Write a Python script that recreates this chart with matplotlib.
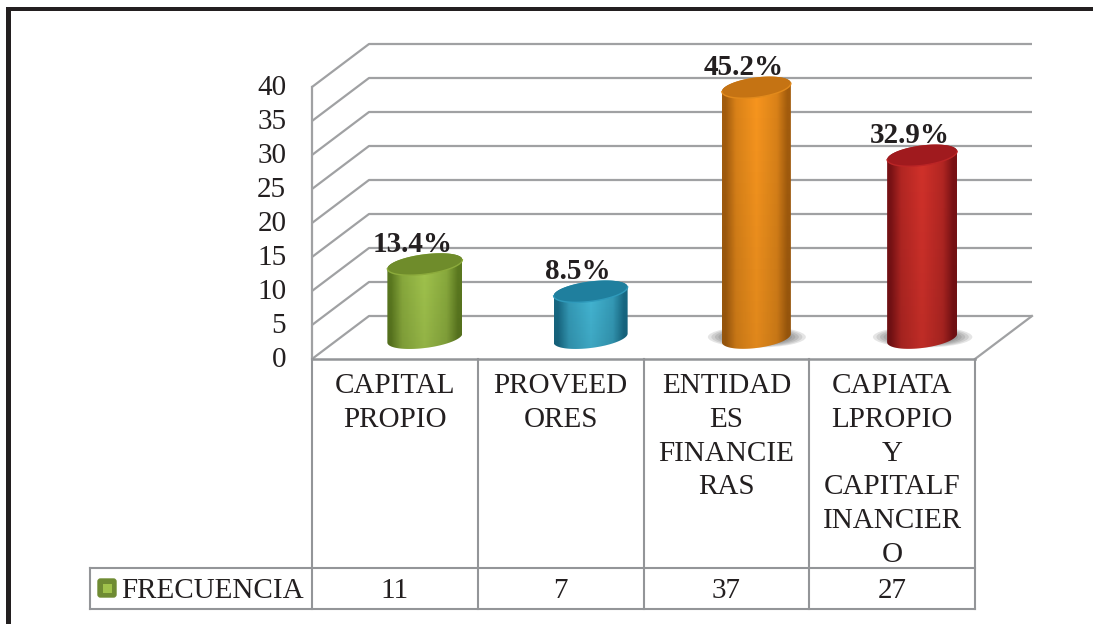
import numpy as np
import matplotlib
matplotlib.use("Agg")
import matplotlib.pyplot as plt
from matplotlib.colors import LinearSegmentedColormap, to_rgb
from matplotlib.path import Path
from matplotlib.patches import PathPatch, Ellipse, Rectangle, FancyBboxPatch
from matplotlib.transforms import ScaledTranslation

plt.rcParams['font.family'] = ['Liberation Serif', 'DejaVu Serif']

# ---- data ----
categories = [["CAPITAL", "PROPIO"],
              ["PROVEED", "ORES"],
              ["ENTIDAD", "ES", "FINANCIE", "RAS"],
              ["CAPIATA", "LPROPIO", "Y", "CAPITALF", "INANCIER", "O"]]
series_name = "FRECUENCIA"
frecuencia = [11, 7, 37, 27]
percent_labels = ["13.4%", "8.5%", "45.2%", "32.9%"]
y_ticks = [0, 5, 10, 15, 20, 25, 30, 35, 40]

# ---- styles ----
edge_cols = ["#5c7a20", "#186a85", "#a45d0e", "#7a1215"]
mid_cols = ["#a3c64e", "#45b8d6", "#f9971f", "#d3322b"]
cap_cols = ["#6f8c2b", "#1f7f9e", "#c57313", "#a01a1e"]
rim_cols = ["#8cab3c", "#2f9abb", "#e28a1c", "#bb2526"]
bar_widths = [75, 74, 69, 70]
shadow_alpha = [0.0, 0.0, 1.0, 1.0]
GRID = "#a0a1a3"
TABLE = "#939598"
INK = "#231f20"
FS = 21
FS_TABLE = 21.0

W, H = 1093, 624
fig = plt.figure(figsize=(W / 100, H / 100), dpi=100, facecolor="white")

# data axes: value 0 at pixel row 359, value 40 at row 87; columns 312..975
ax = fig.add_axes([312 / W, 1 - 359 / H, (975 - 312) / W, (359 - 87) / H])
ax.set_xlim(-0.5, 3.5)
ax.set_ylim(0, 40)
ax.patch.set_alpha(0)
for s in ax.spines.values():
    s.set_visible(False)
ax.set_xticks([])
ax.set_yticks(y_ticks)
ax.tick_params(axis="y", length=0, pad=18.5, labelsize=FS, labelcolor=INK)
for lab in ax.get_yticklabels():
    lab.set_transform(lab.get_transform() + ScaledTranslation(0, 2 / 72 * 0.72, fig.dpi_scale_trans))

# depth of the 3D box in data units
sx = (975 - 312) / 4
sy = (359 - 87) / 40
depth_x = 57 / sx
depth_y = 43 / sy
for v in y_ticks:
    ax.plot([-0.5, -0.5 + depth_x, 3.5 + depth_x], [v, v + depth_y, v + depth_y],
            color=GRID, lw=1.6, clip_on=False, solid_capstyle="butt", zorder=1)
ax.plot([-0.5, -0.5], [0, 40], color=GRID, lw=1.6, clip_on=False, zorder=1)
ax.plot([3.5, 3.5 + depth_x], [0, depth_y], color=GRID, lw=1.6, clip_on=False, zorder=1)

# overlay in pixel coordinates
ov = fig.add_axes([0, 0, 1, 1], zorder=5)
ov.set_xlim(0, W)
ov.set_ylim(H, 0)
ov.axis("off")
ov.patch.set_alpha(0)


def to_px(x, v):
    return ov.transData.inverted().transform(ax.transData.transform((x, v)))


# outer frame
ov.add_patch(Rectangle((6, 7), W - 6, 3.5, fc=INK, ec="none"))
ov.add_patch(Rectangle((6, 7), 5, H - 7, fc=INK, ec="none"))

# table lines
row_top, row_bot = 568, 609
col_x = [to_px(i - 0.5, 0)[0] for i in range(5)]
y_floor = to_px(0, 0)[1]
ov.plot([90, col_x[-1]], [row_top, row_top], color=TABLE, lw=1.5, zorder=2)
ov.plot([90, col_x[-1]], [row_bot, row_bot], color=TABLE, lw=1.5, zorder=2)
ov.plot([90, 90], [row_top, row_bot], color=TABLE, lw=1.5, zorder=2)
ov.plot([col_x[0], col_x[-1]], [y_floor, y_floor], color=TABLE, lw=1.8, zorder=2)
for x in col_x:
    ov.plot([x, x], [y_floor, row_bot], color=TABLE, lw=1.5, zorder=2)

# category labels and values
for i, lines in enumerate(categories):
    cx = to_px(i, 0)[0]
    for j, line in enumerate(lines):
        ov.text(cx, 386 + j * 33.8, line, ha="center", va="center", fontsize=FS_TABLE, color=INK)
    ov.text(cx, 591, str(frecuencia[i]), ha="center", va="center", fontsize=FS_TABLE, color=INK)

# legend key
ov.add_patch(FancyBboxPatch((98, 579), 18, 18, boxstyle="round,pad=0,rounding_size=2.5",
                            fc="#6f8b33", ec="#6f8b33", lw=1, zorder=3))
ov.add_patch(Rectangle((103, 583.5), 9, 9, fc="#a0c24c", ec="none", zorder=4))
ov.text(121, 591, series_name, ha="left", va="center", fontsize=FS_TABLE, color=INK)

# cylinders
slope = 0.12
cap_half = 10.0
t = np.linspace(0, 2 * np.pi, 121)
for i, v in enumerate(frecuencia):
    base = to_px(i, 0)
    top = to_px(i, v)
    cx = base[0] + 30
    hw = bar_widths[i] / 2
    yb = base[1] - 21
    yt = top[1] - 20

    if shadow_alpha[i] > 0:
        for k in range(10):
            f = 1 - k / 14
            ov.add_patch(Ellipse((cx + 0.5, yb - 1), 2 * hw * 1.42 * f, 21 * f,
                                 fc="#3c3c3c", ec="none", alpha=0.13 * shadow_alpha[i], zorder=3))

    ex = hw * np.cos(t)
    ey = -slope * hw * np.cos(t) + cap_half * np.sin(t)

    # body: upper half of the top ellipse + lower half of the bottom ellipse
    bx = np.r_[cx + ex[:61], cx + ex[60:]]
    by = np.r_[yb + ey[:61], yt + ey[60:]]
    verts = np.c_[bx, by]
    body = PathPatch(Path(np.r_[verts, verts[:1]], closed=True), fc="none", ec="none", zorder=4)
    ov.add_patch(body)
    e, m = np.array(to_rgb(edge_cols[i])), np.array(to_rgb(mid_cols[i]))
    cmap = LinearSegmentedColormap.from_list(
        "c", [(0, e), (0.05, e), (0.2, 0.35 * e + 0.65 * m), (0.5, m),
              (0.8, 0.35 * e + 0.65 * m), (0.95, e), (1, e)])
    grad = np.linspace(0, 1, 128)[None, :]
    extent = [cx - hw, cx + hw, yb + 14, yt - 14]
    im = ov.imshow(grad, cmap=cmap, extent=extent, aspect="auto", zorder=4, interpolation="bilinear")
    im.set_clip_path(body)
    # slightly darker toward the foot of the cylinder
    shade = np.zeros((64, 1, 4))
    shade[..., 3] = np.linspace(0.0, 0.10, 64)[:, None]
    im2 = ov.imshow(shade, extent=extent, aspect="auto", zorder=4.2, interpolation="bilinear")
    im2.set_clip_path(body)

    # cap
    ov.fill(cx + ex, yt + ey, color=cap_cols[i], lw=0, zorder=4.5)
    ov.plot(cx + ex[:61], yt + ey[:61], color=rim_cols[i], lw=1.0, zorder=4.6)

    # value label
    ov.text(cx - 12.5, yt - 19.5, percent_labels[i], ha="center", va="center",
            fontsize=FS, fontweight="bold", color=INK, zorder=6)

ov.set_xlim(0, W)
ov.set_ylim(H, 0)
fig.savefig("out.png", dpi=100, facecolor="white")
